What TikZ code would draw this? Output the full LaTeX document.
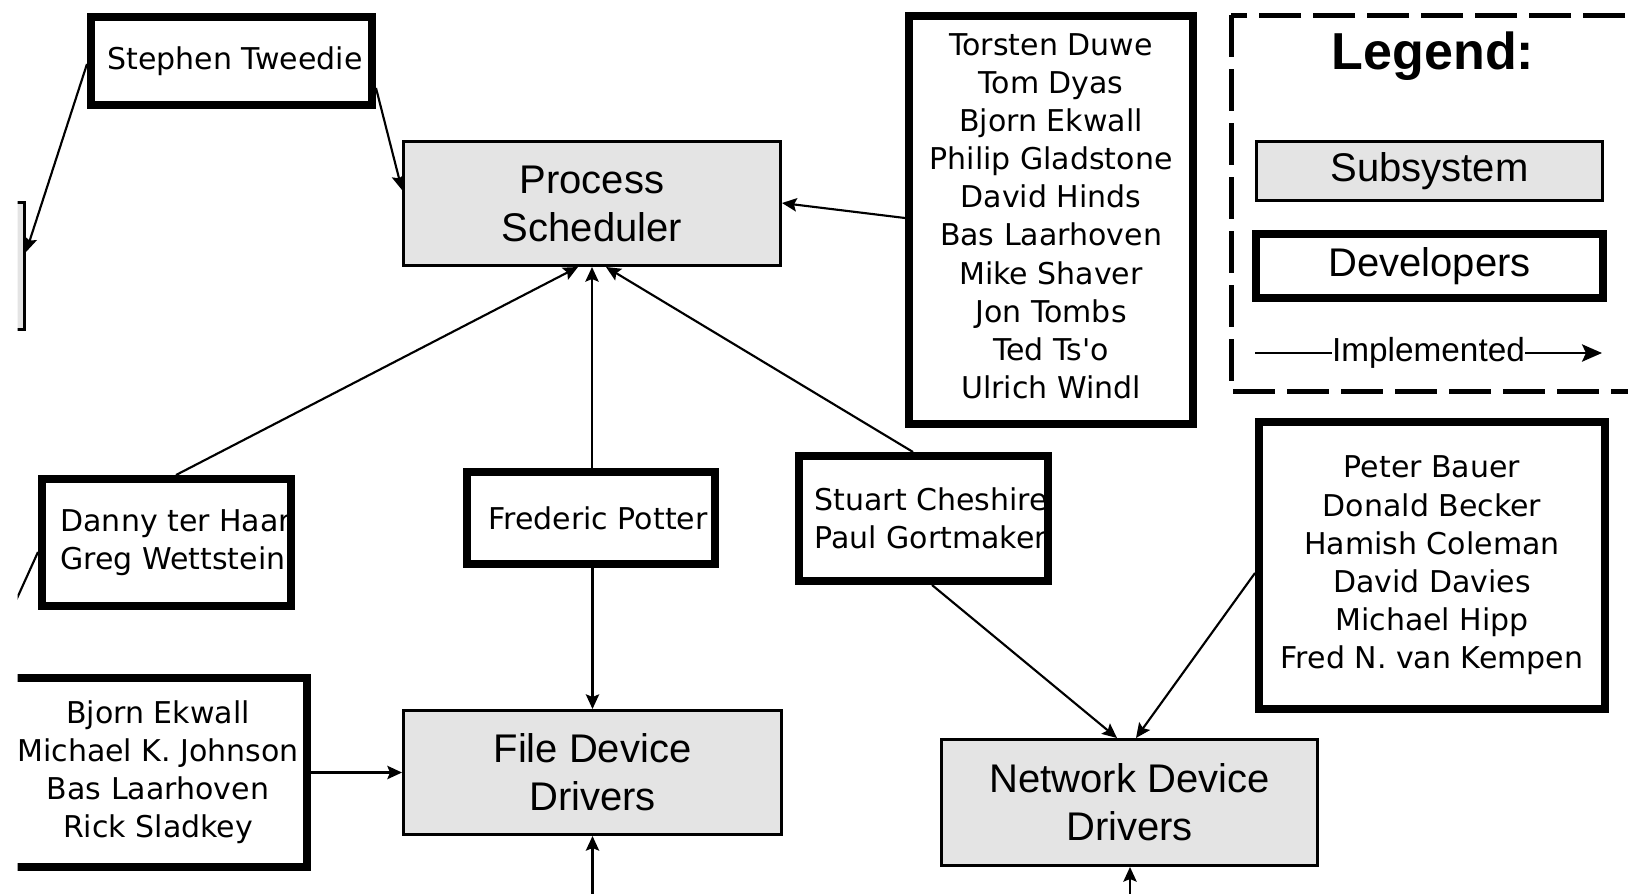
\documentclass[tikz,border=0pt]{standalone}
\usepackage{fontspec}
\usetikzlibrary{arrows.meta}
\newfontfamily\namefont{DejaVu Sans}
\newfontfamily\boxfont{Liberation Sans}
\definecolor{subsysgray}{RGB}{228,228,228}

\tikzset{every picture/.style={line width=0.75pt}}
\tikzset{
  subsys/.style={draw, line width=2.25pt, fill=subsysgray, inner sep=0pt, align=center, font={\boxfont\fontsize{30}{36}\selectfont}},
  devbox/.style={draw, line width=6pt, fill=white, inner sep=0pt, align=center, font={\namefont\fontsize{22.5}{28.6}\selectfont}},
  devname/.style={inner sep=0pt, align=left, anchor=west, font={\namefont\fontsize{22.5}{28.6}\selectfont}},
  impl/.style={line width=1.6pt, -{Stealth[length=11pt,width=10pt,inset=2pt]}},
  plainlink/.style={line width=1.6pt},
  legendframe/.style={line width=3.75pt, dash pattern=on 31.5pt off 9pt},
}

\begin{document}
\begin{tikzpicture}[x=0.75pt,y=0.75pt,yscale=-1,xscale=1]
\useasboundingbox (0,0) rectangle (1628,893);
\clip (17.5,0) rectangle (1628,893);

%Subsystems
\node[subsys, minimum width=282.75pt, minimum height=93pt] (ps) at (592,203.5) {Process\\Scheduler};
\node[subsys, minimum width=283.5pt, minimum height=93pt] (fdd) at (592.5,772.5) {File Device\\Drivers};
\node[subsys, minimum width=282pt, minimum height=94.5pt] (ndd) at (1129.5,802.5) {Network Device\\Drivers};
\node[subsys, minimum width=282.75pt, minimum height=95.25pt] (edgesub) at (-164,266) {};

%Developers, names cut by the box
\node[devbox, minimum width=210.75pt, minimum height=66pt] (stephen) at (231.5,61) {};
\begin{scope}
  \clip (95,21) rectangle (368,101);
  \node[devname] (stephentxt) at (107,61) {Stephen Tweedie};
\end{scope}
\node[devbox, minimum width=186.75pt, minimum height=95.25pt] (danny) at (166.5,542.5) {};
\begin{scope}
  \clip (46,483) rectangle (287,602);
  \node[devname] (dannytxt) at (60,542.5) {Danny ter Haar\\Greg Wettstein};
\end{scope}
\node[devbox, minimum width=186pt, minimum height=69pt] (frederic) at (591,518) {};
\begin{scope}
  \clip (471,476) rectangle (711,560);
  \node[devname] (frederictxt) at (488,518) {Frederic Potter};
\end{scope}
\node[devbox, minimum width=186.75pt, minimum height=93.75pt] (stuart) at (923.5,518.5) {};
\begin{scope}
  \clip (803,460) rectangle (1044,577);
  \node[devname] (stuarttxt) at (814,518.5) {Stuart Cheshire\\Paul Gortmaker};
\end{scope}

%Developers
\node[devbox, minimum width=213pt, minimum height=306pt] (devsched) at (1051,220)
  {Torsten Duwe\\Tom Dyas\\Bjorn Ekwall\\Philip Gladstone\\David Hinds\\Bas Laarhoven\\Mike Shaver\\Jon Tombs\\Ted Ts'o\\Ulrich Windl\\[-22.5pt]};
\node[devbox, minimum width=259.5pt, minimum height=215.25pt] (peter) at (1432,565.5)
  {Peter Bauer\\Donald Becker\\Hamish Coleman\\David Davies\\Michael Hipp\\Fred N. van Kempen};
\node[devbox, minimum width=223.5pt, minimum height=141.75pt] (lbdevs) at (158,772.5)
  {Bjorn Ekwall\\Michael K. Johnson\\Bas Laarhoven\\Rick Sladkey};

%Legend
\draw[legendframe] (1231,15) rectangle (1700,391);
\node[font={\boxfont\bfseries\fontsize{39}{44}\selectfont}] (legendtitle) at (1433,56) {Legend:};
\node[subsys, minimum width=259.5pt, minimum height=44.25pt] (legsub) at (1429.5,171) {Subsystem};
\node[devbox, minimum width=260.25pt, minimum height=48pt, font={\boxfont\fontsize{30}{36}\selectfont}] (legdev) at (1429.5,266) {Developers};
\coordinate (implfrom) at (1255,353);
\coordinate (implto) at (1602,353);
\draw[line width=1.6pt, -{Stealth[length=15pt,width=13pt,inset=3pt]}] (implfrom) -- (implto)
  node[pos=0.5, fill=white, inner xsep=0pt, font={\boxfont\fontsize{25}{30}\selectfont}] (impltext) {Implemented};

%Off-picture ends
\coordinate (fddfeed) at (592.5,905);
\coordinate (nddfeed) at (1130,905);
\coordinate (dannyfeed) at (-20,680);

%Straight Lines
\draw[impl] (stephen.west |- 0,64) -- (edgesub.east |- 0,252);
\draw[impl] (stephen.east |- 0,88) -- (ps.west |- 0,190);
\draw[impl] (devsched.west |- 0,218) -- (ps.east |- 0,203);
\draw[impl] (danny.north -| 176,0) -- (ps.south -| 578,0);
\draw[impl] (frederic.north -| ps.south) -- (ps.south);
\draw[impl] (stuart.north -| 913,0) -- (ps.south -| 606,0);
\draw[impl] (frederic.south -| fdd.north) -- (fdd.north);
\draw[impl] (lbdevs.east) -- (fdd.west |- lbdevs.east);
\draw[impl] (fddfeed) -- (fdd.south);
\draw[impl] (stuart.south -| 932,0) -- (ndd.north -| 1117,0);
\draw[impl] (peter.west |- 0,573) -- (ndd.north -| 1136,0);
\draw[impl] (nddfeed) -- (ndd.south -| nddfeed);
\draw[plainlink] (danny.west |- 0,552) -- (dannyfeed);

\end{tikzpicture}
\end{document}
